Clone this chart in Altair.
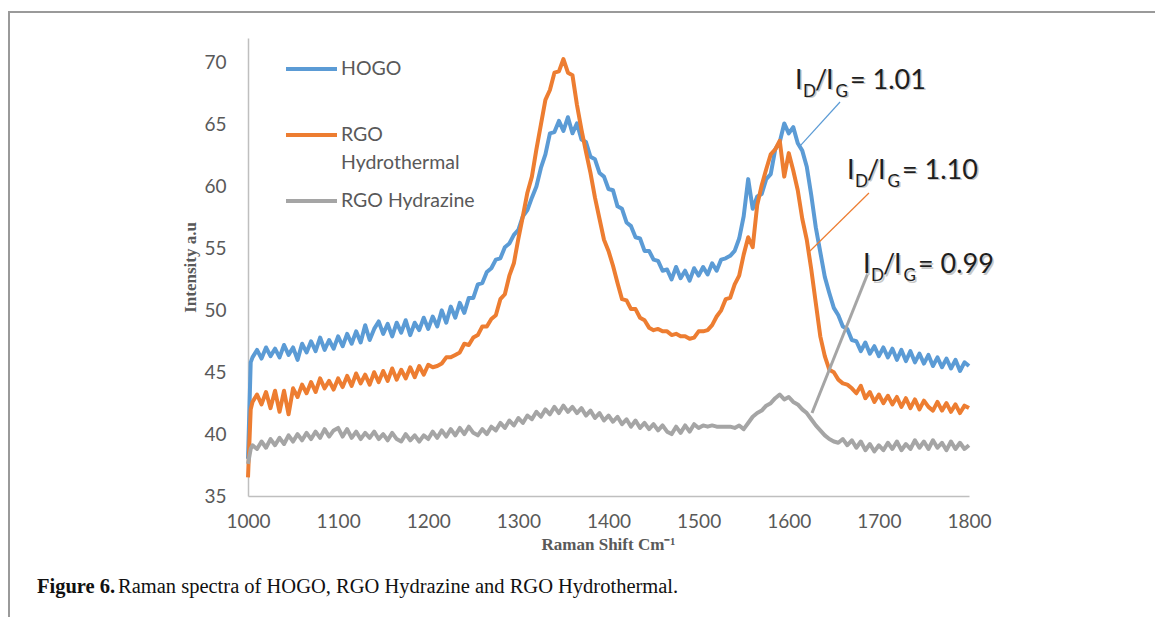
import altair as alt
import pandas as pd

# ---------------- data ----------------
shift = [1000, 1003] + list(range(1005, 1801, 5))

hogo = [
    38.0, 45.8, 46.2,
    46.8, 46.1, 47.0, 46.3, 46.9, 46.2, 47.2, 46.4, 47.0, 46.0, 47.3, 46.6, 47.5, 46.7, 47.8, 46.8, 47.6, 46.9, 47.9,
    47.1, 48.1, 47.3, 48.3, 47.4, 48.8, 47.6, 48.5, 49.1, 48.1, 48.9, 47.9, 49.0, 48.2, 49.2, 48.0, 49.0, 48.4, 49.4, 48.5,
    49.5, 48.7, 50.0, 49.0, 50.3, 49.4, 50.6, 49.8, 51.0, 51.0, 52.1, 52.2, 53.1, 53.4, 54.1, 54.2, 55.1, 55.4, 56.1, 56.5,
    57.6, 58.1, 59.1, 60.0, 61.5, 62.6, 64.3, 64.4, 65.3, 64.5, 65.6, 64.3, 65.1, 63.8, 63.6, 62.4, 62.2, 61.1, 60.8, 59.8,
    59.7, 58.4, 58.2, 57.1, 56.8, 55.9, 55.8, 54.8, 54.8, 54.1, 54.0, 53.2, 53.3, 52.5, 53.5, 52.6, 53.2, 52.4, 53.4, 52.8,
    53.5, 52.9, 53.8, 53.2, 54.1, 54.2, 54.4, 54.8, 55.8, 57.6, 60.6, 58.2, 59.2, 59.4, 60.6, 61.0, 63.0, 63.6, 65.1, 64.3,
    64.8, 63.5, 62.9, 61.6, 59.3, 56.7, 54.7, 52.7, 51.4, 50.2, 49.6, 48.7, 48.5, 47.6, 47.5, 46.7, 47.4, 46.5, 47.1, 46.3,
    47.0, 46.2, 46.9, 46.0, 46.8, 45.9, 46.7, 45.8, 46.5, 45.7, 46.4, 45.5, 46.2, 45.4, 46.1, 45.3, 46.0, 45.1, 45.8, 45.5,
]

rgo_hydrothermal = [
    36.5, 42.0, 42.6,
    43.2, 42.4, 43.4, 42.1, 43.5, 41.8, 43.5, 41.6, 43.7, 43.0, 44.0, 43.3, 44.2, 43.4, 44.5, 43.7, 44.3, 43.6, 44.5,
    43.8, 44.7, 43.9, 44.9, 44.1, 44.8, 44.0, 45.0, 44.2, 45.1, 44.3, 45.3, 44.4, 45.2, 44.5, 45.4, 44.6, 45.5, 44.8, 45.6,
    45.4, 45.5, 45.7, 46.2, 46.2, 46.4, 46.6, 47.3, 47.2, 47.8, 48.0, 48.7, 48.7, 49.3, 49.6, 50.9, 51.3, 52.8, 53.8, 55.8,
    57.6, 59.5, 60.8, 63.0, 65.0, 67.0, 67.8, 69.2, 69.3, 70.3, 69.2, 69.0, 66.6, 64.6, 62.8, 61.1, 59.1, 57.4, 55.7, 54.8,
    53.6, 52.2, 50.9, 50.8, 50.1, 50.1, 49.4, 49.2, 48.6, 48.4, 48.5, 48.3, 48.3, 48.0, 48.1, 47.9, 47.9, 47.7, 47.8, 48.3,
    48.3, 48.4, 48.8, 49.5, 50.0, 50.9, 51.0, 52.1, 52.8, 54.5, 55.9, 55.1, 58.5, 60.1, 61.4, 62.6, 63.0, 63.7, 60.8, 62.7,
    61.3, 59.7, 57.4, 55.7, 53.3, 50.6, 47.9, 46.3, 45.2, 45.0, 44.4, 44.1, 44.0, 43.7, 43.3, 43.9, 42.9, 43.4, 42.6, 43.2,
    42.5, 43.1, 42.4, 43.0, 42.2, 42.9, 42.1, 42.8, 42.0, 42.7, 42.2, 41.9, 42.6, 41.9, 42.5, 41.8, 42.4, 41.7, 42.3, 42.1,
]

rgo_hydrazine = [
    37.6, 38.8, 39.1,
    38.8, 39.4, 38.9, 39.6, 39.1, 39.7, 39.2, 39.9, 39.4, 40.0, 39.5, 40.1, 39.6, 40.2, 39.7, 40.4, 39.8, 40.3, 40.5,
    39.8, 40.4, 39.7, 40.2, 39.6, 40.1, 39.7, 40.2, 39.6, 40.0, 39.5, 40.1, 39.6, 39.4, 40.0, 39.5, 39.9, 39.4, 39.9, 39.6,
    40.2, 39.7, 40.3, 39.8, 40.4, 39.9, 40.5, 40.0, 40.6, 40.1, 39.9, 40.4, 40.0, 40.6, 40.3, 40.9, 40.5, 41.1, 40.7, 41.3,
    40.9, 41.5, 41.2, 41.8, 41.4, 42.0, 41.6, 42.2, 41.7, 42.3, 41.8, 42.2, 41.7, 42.1, 41.5, 41.9, 41.3, 41.7, 41.1, 41.5,
    41.0, 41.4, 40.8, 41.2, 40.6, 41.1, 40.5, 40.9, 40.4, 40.8, 40.3, 40.7, 40.2, 40.0, 40.6, 40.1, 40.7, 40.2, 40.8, 40.5,
    40.7, 40.6, 40.7, 40.6, 40.6, 40.6, 40.6, 40.5, 40.7, 40.4, 40.9, 41.4, 41.7, 41.9, 42.3, 42.5, 42.9, 43.2, 42.8, 43.0,
    42.6, 42.4, 42.0, 41.7, 41.2, 40.7, 40.3, 39.9, 39.6, 39.4, 39.3, 39.6, 39.1, 39.5, 38.9, 39.4, 38.7, 39.2, 38.6, 39.1,
    38.7, 39.3, 38.8, 39.4, 38.7, 39.2, 38.8, 39.5, 38.9, 39.4, 38.8, 39.5, 38.9, 39.3, 38.7, 39.4, 38.8, 39.3, 38.8, 39.1,
]

series_names = ["HOGO", "RGO Hydrothermal", "RGO Hydrazine"]
series_colors = ["#5B9BD5", "#ED7D31", "#A5A5A5"]
y_ticks = [35, 40, 45, 50, 55, 60, 65, 70]
x_ticks = [1000, 1100, 1200, 1300, 1400, 1500, 1600, 1700, 1800]

# annotation anchors (data coords) and ratio texts
ann_x = [1606.9, 1664.6, 1682.4]
ann_y = [67.88, 60.61, 53.01]
ann_ratio = ["= 1.01", "= 1.10", "= 0.99"]

# leader lines (data coords)
lead_x1 = [1656.9, 1689.0, 1687.9]
lead_y1 = [66.83, 59.48, 53.01]
lead_x2 = [1611.4, 1623.6, 1625.8]
lead_y2 = [63.19, 54.79, 41.70]

# ---------------- build ----------------
rows = []
for name, vals in zip(series_names, [hogo, rgo_hydrothermal, rgo_hydrazine]):
    for s, v in zip(shift, vals):
        rows.append({"shift": s, "intensity": v, "series": name})
df = pd.DataFrame(rows)

xs = alt.Scale(domain=[1000, 1800], nice=False, zero=False)
ys = alt.Scale(domain=[35, 72], nice=False, zero=False)
cs = alt.Scale(domain=series_names, range=series_colors)

x_axis = alt.Axis(values=x_ticks, grid=False, ticks=False, tickSize=0, domainColor="#BFBFBF",
                  domainWidth=1.5, labelFont="Lato", labelFontSize=19, labelColor="#595959",
                  labelPadding=16, labelFlush=False, labelOverlap=False,
                  title="Raman Shift Cm\u207b\u00b9", titleFont="Liberation Serif",
                  titleFontSize=17, titleFontWeight="bold", titleColor="#595959",
                  titleX=360, titleY=53, titleBaseline="alphabetic", format="d")
y_axis = alt.Axis(values=y_ticks, grid=False, ticks=False, tickSize=0, domainColor="#BFBFBF",
                  domainWidth=1.5, labelFont="Lato", labelFontSize=19, labelColor="#595959",
                  labelPadding=22, labelFlush=False, labelOverlap=False,
                  title="Intensity a.u", titleFont="Liberation Serif",
                  titleFontSize=17, titleFontWeight="bold", titleColor="#595959",
                  titleX=-53, titleY=229, titleAngle=-90, titleBaseline="alphabetic",
                  titleAlign="center")


def X(field):
    return alt.X(field, scale=xs, axis=x_axis)


def Y(field):
    return alt.Y(field, scale=ys, axis=y_axis)


base = alt.Chart(df)
layers = []
for i, name in enumerate(series_names):
    layers.append(
        base.transform_filter(alt.datum.series == name)
        .mark_line(strokeWidth=4, strokeJoin="round")
        .encode(x=X("shift:Q"), y=Y("intensity:Q"),
                color=alt.Color("series:N", scale=cs, legend=None))
    )

# leader lines
lead_df = pd.DataFrame({"x1": lead_x1, "y1": lead_y1, "x2": lead_x2, "y2": lead_y2,
                        "series": series_names})
lead_widths = [1.2, 1.2, 3.0]
for i, name in enumerate(series_names):
    layers.append(
        alt.Chart(lead_df).transform_filter(alt.datum.series == name)
        .mark_rule(strokeWidth=lead_widths[i])
        .encode(x=X("x1:Q"), y=Y("y1:Q"), x2="x2:Q", y2="y2:Q",
                color=alt.Color("series:N", scale=cs, legend=None))
    )

# annotation texts with subscripts
ann_df = pd.DataFrame({"x": ann_x, "y": ann_y, "ratio": ann_ratio})
pieces = [("I", 0, 0, 27), ("D", 8, 8, 17), ("/", 20, 0, 27), ("I", 31, 0, 27),
          ("G", 40.5, 8, 17), (None, 55, 0, 27)]
for shadow in (True, False):
    for txt, dx, dy, size in pieces:
        props = dict(font="Lato", fontSize=size, align="left", baseline="alphabetic",
                     dx=dx + (1.5 if shadow else 0), dy=dy + (1.5 if shadow else 0),
                     color="#C8C8C8" if shadow else "#1E1E1E")
        if txt is not None:
            props["text"] = txt
        enc = dict(x=X("x:Q"), y=Y("y:Q"))
        if txt is None:
            enc["text"] = alt.Text("ratio:N")
        layers.append(alt.Chart(ann_df).mark_text(**props).encode(**enc))

# manual legend
one = pd.DataFrame({"k": [0]})
leg_y = [31, 97, 163]
for i, name in enumerate(series_names):
    layers.append(alt.Chart(one).mark_rule(strokeWidth=4, color=series_colors[i])
                  .encode(x=alt.value(38), x2=alt.value(89), y=alt.value(leg_y[i])))
leg_lines = [("HOGO", 31), ("RGO", 97), ("Hydrothermal", 125), ("RGO Hydrazine", 163)]
for txt, yy in leg_lines:
    layers.append(alt.Chart(one).mark_text(text=txt, font="Lato", fontSize=19.5, color="#595959",
                                           align="left", baseline="middle")
                  .encode(x=alt.value(93), y=alt.value(yy)))

# frame
layers.append(alt.Chart(one).mark_rule(strokeWidth=2, color="#9A9A9A")
              .encode(x=alt.value(-239), y=alt.value(-26), y2=alt.value(579)))
layers.append(alt.Chart(one).mark_rule(strokeWidth=2, color="#9A9A9A")
              .encode(x=alt.value(-240), x2=alt.value(907), y=alt.value(-26)))

# caption
layers.append(alt.Chart(one).mark_text(text="Figure 6.", font="Liberation Serif", fontSize=20.5,
                                       fontWeight="bold", color="#111111", align="left",
                                       baseline="alphabetic")
              .encode(x=alt.value(-211), y=alt.value(555)))
layers.append(alt.Chart(one).mark_text(text="Raman spectra of HOGO, RGO Hydrazine and RGO Hydrothermal.",
                                       font="Liberation Serif", fontSize=20.5, color="#111111",
                                       align="left", baseline="alphabetic")
              .encode(x=alt.value(-130), y=alt.value(555)))

chart = alt.layer(*layers).properties(
    width=721, height=458,
    padding={"left": 248, "top": 38, "right": 186, "bottom": 121},
    autosize="none",
    background="white",
).configure_view(strokeWidth=0)

chart.save("out.html", embed_options={"renderer": "svg", "actions": False})
